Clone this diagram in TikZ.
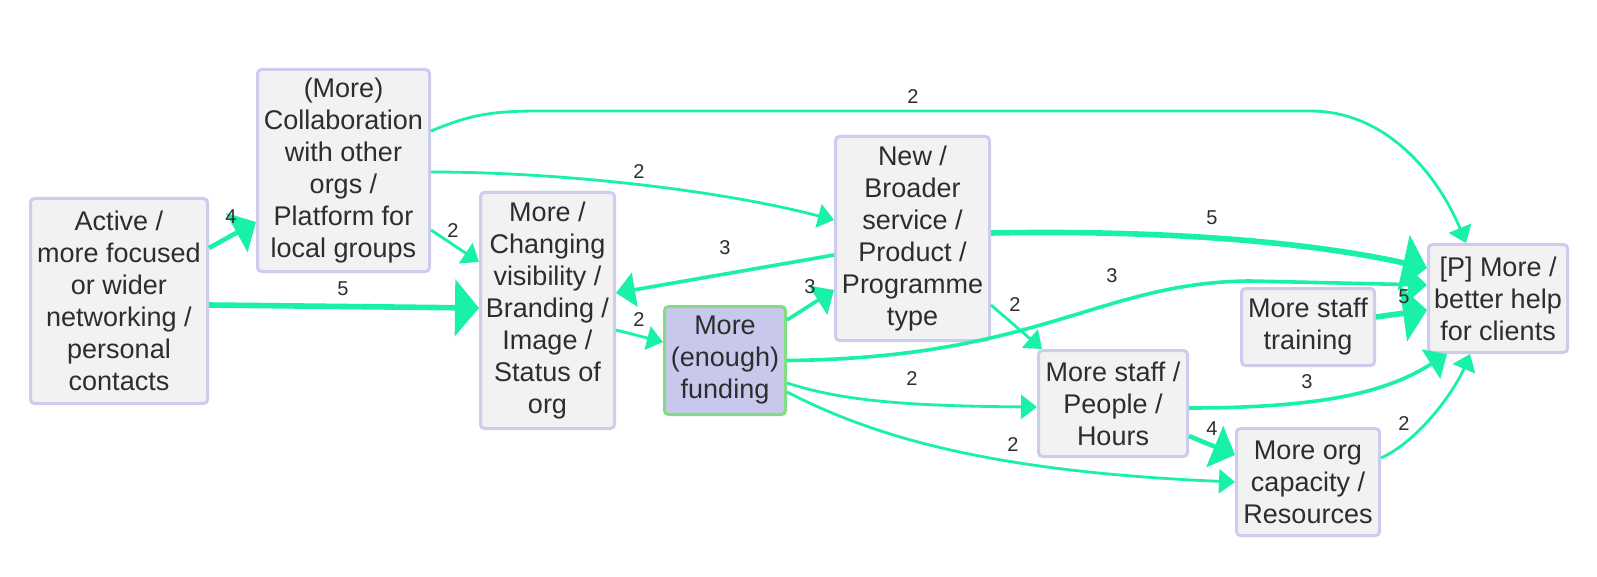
\documentclass[tikz,border=0pt]{standalone}
\usepackage{fontspec}
\setmainfont{Liberation Sans}
\usetikzlibrary{calc, shapes, arrows.meta}
\definecolor{boxline}{RGB}{204,204,238}
\definecolor{boxfill}{RGB}{242,242,242}
\definecolor{fundline}{RGB}{130,222,130}
\definecolor{fundfill}{RGB}{200,200,236}
\definecolor{edge}{RGB}{25,240,168}
\definecolor{txt}{RGB}{45,45,45}

\begin{document}
\begin{tikzpicture}[x=1pt,y=-1pt]
\tikzstyle{box}=[rectangle,rounded corners=4pt,draw=boxline,line width=3pt,fill=boxfill,text=txt,align=center,inner sep=0pt,font=\fontsize{27}{32}\selectfont]
\tikzstyle{fundbox}=[box,draw=fundline,fill=fundfill]
\tikzstyle{lbl}=[text=txt,inner sep=0pt,font=\fontsize{20}{23}\selectfont]
\tikzstyle{w2}=[draw=edge,line width=2.8pt,-{Triangle[length=16pt,width=24pt]}]
\tikzstyle{w3}=[draw=edge,line width=3.6pt,-{Triangle[length=19pt,width=34pt]}]
\tikzstyle{w4}=[draw=edge,line width=4.6pt,-{Triangle[length=22pt,width=44pt]}]
\tikzstyle{w5}=[draw=edge,line width=5.6pt,-{Triangle[length=24pt,width=56pt]}]
\useasboundingbox (0,0) rectangle (1597,577);
% factors
\node[box,minimum width=177pt,minimum height=205pt] (act) at (119,301) {Active /\\more focused\\or wider\\networking /\\personal\\contacts};
\node[box,minimum width=172pt,minimum height=202pt] (col) at (343.5,170.5) {(More)\\Collaboration\\with other\\orgs /\\Platform for\\local groups};
\node[box,minimum width=134pt,minimum height=236pt] (vis) at (547.5,310.5) {More /\\Changing\\visibility /\\Branding /\\Image /\\Status of\\org};
\node[fundbox,minimum width=121pt,minimum height=108pt] (fund) at (725,360.5) {More\\(enough)\\funding};
\node[box,minimum width=154pt,minimum height=204pt] (new) at (912.5,238.5) {New /\\Broader\\service /\\Product /\\Programme\\type};
\node[box,minimum width=149pt,minimum height=106pt] (ppl) at (1113,403.5) {More staff /\\People /\\Hours};
\node[box,minimum width=133pt,minimum height=77pt] (trn) at (1308,327) {More staff\\training};
\node[box,minimum width=143pt,minimum height=107pt] (cap) at (1308,482) {More org\\capacity /\\Resources};
\node[box,minimum width=139pt,minimum height=108pt] (help) at (1498,298.5) {[P] More /\\better help\\for clients};
% links
\draw[w4] ([yshift=53pt]act.east) -- ([yshift=-51.5pt]col.west);
\draw[w5] ([yshift=-4pt]act.east) -- ([yshift=2.5pt]vis.west);
\draw[w2] ([yshift=-59.5pt]col.east) -- ([yshift=48.5pt]vis.west);
\draw[w2] ([yshift=-1.5pt]col.east) .. controls (560,172) and (720,190) .. ([yshift=18.5pt]new.west);
\draw[w2] ([yshift=39.5pt]col.east) .. controls (470,115) and (490,111) .. (540,111) -- (1310,111) .. controls (1390,111) and (1440,180) .. ([xshift=-32pt]help.north);
\draw[w3] ([yshift=-16.5pt]new.west) -- ([yshift=17.5pt]vis.east);
\draw[w2] ([yshift=-19.5pt]vis.east) -- ([yshift=18.5pt]fund.west);
\draw[w3] ([yshift=40.5pt]fund.east) -- ([yshift=-51.5pt]new.west);
\draw[w5] ([yshift=5.5pt]new.east) .. controls (1150,230) and (1300,240) .. ([yshift=30.5pt]help.west);
\draw[w2] ([yshift=-66.5pt]new.east) -- ([xshift=5pt]ppl.north west);
\draw[w3] (fund.east) .. controls (1040,358) and (1100,282) .. (1250,281) -- ([yshift=13.5pt]help.west);
\draw[w2] ([yshift=-22.5pt]fund.east) .. controls (840,400) and (900,406) .. ([yshift=-3.5pt]ppl.west);
\draw[w2] ([yshift=-31.5pt]fund.east) .. controls (880,440) and (1000,472) .. (cap.west);
\draw[w3] ([yshift=-4.5pt]ppl.east) .. controls (1330,408) and (1390,390) .. ([xshift=-51pt]help.south);
\draw[w4] ([yshift=-32.5pt]ppl.east) -- ([yshift=27pt]cap.west);
\draw[w2] ([yshift=24pt]cap.east) .. controls (1420,440) and (1455,390) .. ([xshift=-28pt]help.south);
\draw[w5] ([yshift=10pt]trn.east) -- ([yshift=-11.5pt]help.west);
% weights
\node[lbl] (l1) at (231,217) {4};
\node[lbl] (l2) at (343,289) {5};
\node[lbl] (l3) at (453,231) {2};
\node[lbl] (l4) at (639,172) {2};
\node[lbl] (l5) at (913,97) {2};
\node[lbl] (l6) at (725,248) {3};
\node[lbl] (l7) at (639,320) {2};
\node[lbl] (l8) at (810,287) {3};
\node[lbl] (l9) at (1212,218) {5};
\node[lbl] (l10) at (1015,305) {2};
\node[lbl] (l11) at (1112,276) {3};
\node[lbl] (l12) at (912,379) {2};
\node[lbl] (l13) at (1013,445) {2};
\node[lbl] (l14) at (1307,382) {3};
\node[lbl] (l15) at (1212,429) {4};
\node[lbl] (l16) at (1404,424) {2};
\node[lbl] (l17) at (1404,297) {5};
\end{tikzpicture}
\end{document}
